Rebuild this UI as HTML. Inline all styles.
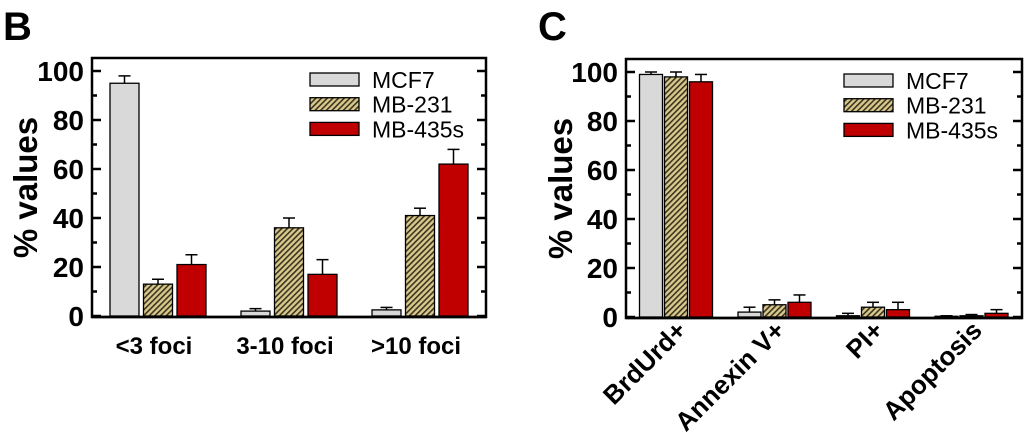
<!DOCTYPE html>
<html><head><meta charset="utf-8"><style>
html,body{margin:0;padding:0;background:#fff;}
svg{display:block;font-family:"Liberation Sans",Arial,sans-serif;}
</style></head><body>
<svg id="s" width="1024" height="445" viewBox="0 0 1024 445" xmlns="http://www.w3.org/2000/svg">
<defs>
<pattern id="hatch" patternUnits="userSpaceOnUse" width="4" height="4" patternTransform="rotate(45)">
<rect width="4" height="4" fill="#d9c98c"/>
<rect width="1.6" height="4" fill="#3b3420"/>
</pattern>
</defs>
<text x="3" y="40" font-size="40" font-weight="bold">B</text>
<text x="538" y="40" font-size="40" font-weight="bold">C</text>
</svg>
<script>
const seriesNames=["MCF7","MB-231","MB-435s"];
const catsB=["<3 foci","3-10 foci",">10 foci"];
const mcf7B=[95,2,2.5];
const mb231B=[13,36,41];
const mb435B=[21,17,62];
const mcf7BErr=[3,1,1];
const mb231BErr=[2,4,3];
const mb435BErr=[4,6,6];
const catsC=["BrdUrd+","Annexin V+","PI+","Apoptosis"];
const mcf7C=[99,2,0.5,0.3];
const mb231C=[98,5,4,0.5];
const mb435C=[96,6,3,1.5];
const mcf7CErr=[1,2,1,0.2];
const mb231CErr=[2,2,2,0.5];
const mb435CErr=[3,3,3,1.5];
const yTicks=[0,20,40,60,80,100];

const NS="http://www.w3.org/2000/svg";
const svg=document.getElementById('s');
const fills=["#d9d9d9","url(#hatch)","#c00000"];
function mk(t,a,p){const e=document.createElementNS(NS,t);for(const k in a)e.setAttribute(k,a[k]);(p||svg).appendChild(e);return e;}

function panel(cfg){
  const g=mk('g',{});
  
  
  const y=v=>cfg.y0-(v/100)*(cfg.y0-cfg.y100);
  const fr=mk('rect',{x:cfg.L,y:cfg.T,width:cfg.R-cfg.L,height:cfg.B-cfg.T,fill:'none',stroke:'#000','stroke-width':2.5},g);
  
  
  for(let v=0;v<=100;v+=10){
    const len=v%20===0?9:5;
    const yy=y(v);
    if(yy<cfg.T+2)continue;
    mk('line',{x1:cfg.L,x2:cfg.L+len,y1:yy,y2:yy,stroke:'#000','stroke-width':2.5},g);
    mk('line',{x1:cfg.R,x2:cfg.R-len,y1:yy,y2:yy,stroke:'#000','stroke-width':2.5},g);
  }
  yTicks.forEach(v=>{
    const t=mk('text',{x:cfg.L-8,y:y(v)+10,'font-size':28,'font-weight':'bold','text-anchor':'end'},g);
    t.textContent=v;
    
    
  });
  const yl=mk('text',{x:0,y:0,'font-size':33,'font-weight':'bold','text-anchor':'middle',transform:`translate(${cfg.ylx},${(cfg.T+cfg.B)/2}) rotate(-90)`},g);
  yl.textContent='% values';
  
  
  cfg.series.forEach((vals,si)=>{
    vals.forEach((v,ci)=>{
      const cx=cfg.c0+ci*cfg.step;
      const x=cx+(si-1)*cfg.bstep-cfg.bw/2;
      const err=cfg.errs[si][ci];
      const top=y(v+err);
      const el=mk('line',{x1:x+cfg.bw/2,x2:x+cfg.bw/2,y1:y(v),y2:top,stroke:'#000','stroke-width':1.5},g);
      
      
      mk('line',{x1:x+cfg.bw/2-6,x2:x+cfg.bw/2+6,y1:top,y2:top,stroke:'#000','stroke-width':1.5},g);
      const r=mk('rect',{x:x,y:y(v),width:cfg.bw,height:Math.max(0.5,y(0)-y(v)),fill:fills[si],stroke:'#000','stroke-width':1.3},g);
      
      
    });
  });
  mk('line',{x1:cfg.L,x2:cfg.R,y1:cfg.B,y2:cfg.B,stroke:'#000','stroke-width':2.5},g);
  cfg.cats.forEach((c,ci)=>{
    const cx=cfg.c0+ci*cfg.step;
    let t;
    if(cfg.rot){
      t=mk('text',{x:0,y:0,'font-size':26,'font-weight':'bold','text-anchor':'end',transform:`translate(${cx+12},${cfg.B+14}) rotate(-45)`},g);
    } else {
      t=mk('text',{x:cx-4,y:cfg.B+37,'font-size':24,'font-weight':'bold','text-anchor':'middle'},g);
    }
    t.textContent=c;
    
    
  });
  seriesNames.forEach((n,i)=>{
    const ly=cfg.legY+i*24.7;
    const r=mk('rect',{x:cfg.legX,y:ly,width:49,height:13,fill:fills[i],stroke:'#000','stroke-width':1.3},g);
    
    
    const t=mk('text',{x:cfg.legX+62,y:ly+15,'font-size':23},g);
    t.textContent=n;
    
    
  });
}
panel({name:'chart-b',L:92,R:486,T:58,B:317,y0:316,y100:71,c0:158,step:131,bw:29,bstep:33.5,
  series:[mcf7B,mb231B,mb435B],errs:[mcf7BErr,mb231BErr,mb435BErr],cats:catsB,rot:false,ylx:37,legX:310,legY:73});
panel({name:'chart-c',L:626,R:1022,T:59,B:318,y0:317,y100:72,c0:676,step:98.5,bw:23,bstep:25,
  series:[mcf7C,mb231C,mb435C],errs:[mcf7CErr,mb231CErr,mb435CErr],cats:catsC,rot:true,ylx:572,legX:844,legY:74});
</script>
</body></html>
